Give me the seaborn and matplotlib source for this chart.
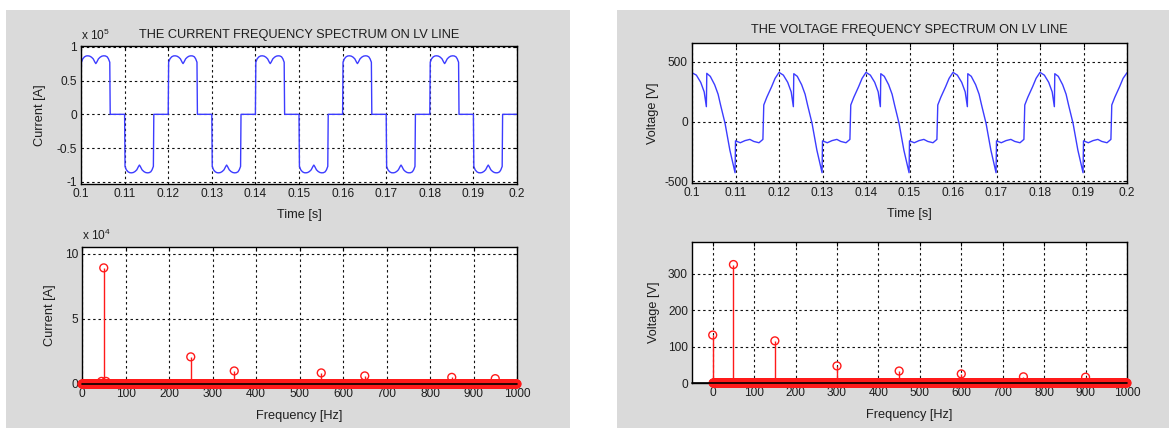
import numpy as np
import pandas as pd
import matplotlib
matplotlib.use("Agg")
import matplotlib.pyplot as plt
import seaborn as sns
from matplotlib.patches import Rectangle

# ---------------- data ----------------
# current waveform, time [s] and current [x1e5 A]
cur_t = [
    0.1000, 0.1001, 0.1004, 0.1008, 0.1012, 0.1016, 0.1020, 0.1024, 0.1028, 0.1032, 0.1034,
    0.1036, 0.1040, 0.1044, 0.1048, 0.1052, 0.1056, 0.1060, 0.1063, 0.1066, 0.1067,
    0.1100, 0.1101, 0.1104, 0.1108, 0.1112, 0.1116, 0.1120, 0.1124, 0.1128, 0.1132, 0.1134,
    0.1136, 0.1140, 0.1144, 0.1148, 0.1152, 0.1156, 0.1160, 0.1163, 0.1166, 0.1167,
    0.1200, 0.1201, 0.1204, 0.1208, 0.1212, 0.1216, 0.1220, 0.1224, 0.1228, 0.1232, 0.1234,
    0.1236, 0.1240, 0.1244, 0.1248, 0.1252, 0.1256, 0.1260, 0.1263, 0.1266, 0.1267,
    0.1300, 0.1301, 0.1304, 0.1308, 0.1312, 0.1316, 0.1320, 0.1324, 0.1328, 0.1332, 0.1334,
    0.1336, 0.1340, 0.1344, 0.1348, 0.1352, 0.1356, 0.1360, 0.1363, 0.1366, 0.1367,
    0.1400, 0.1401, 0.1404, 0.1408, 0.1412, 0.1416, 0.1420, 0.1424, 0.1428, 0.1432, 0.1434,
    0.1436, 0.1440, 0.1444, 0.1448, 0.1452, 0.1456, 0.1460, 0.1463, 0.1466, 0.1467,
    0.1500, 0.1501, 0.1504, 0.1508, 0.1512, 0.1516, 0.1520, 0.1524, 0.1528, 0.1532, 0.1534,
    0.1536, 0.1540, 0.1544, 0.1548, 0.1552, 0.1556, 0.1560, 0.1563, 0.1566, 0.1567,
    0.1600, 0.1601, 0.1604, 0.1608, 0.1612, 0.1616, 0.1620, 0.1624, 0.1628, 0.1632, 0.1634,
    0.1636, 0.1640, 0.1644, 0.1648, 0.1652, 0.1656, 0.1660, 0.1663, 0.1666, 0.1667,
    0.1700, 0.1701, 0.1704, 0.1708, 0.1712, 0.1716, 0.1720, 0.1724, 0.1728, 0.1732, 0.1734,
    0.1736, 0.1740, 0.1744, 0.1748, 0.1752, 0.1756, 0.1760, 0.1763, 0.1766, 0.1767,
    0.1800, 0.1801, 0.1804, 0.1808, 0.1812, 0.1816, 0.1820, 0.1824, 0.1828, 0.1832, 0.1834,
    0.1836, 0.1840, 0.1844, 0.1848, 0.1852, 0.1856, 0.1860, 0.1863, 0.1866, 0.1867,
    0.1900, 0.1901, 0.1904, 0.1908, 0.1912, 0.1916, 0.1920, 0.1924, 0.1928, 0.1932, 0.1934,
    0.1936, 0.1940, 0.1944, 0.1948, 0.1952, 0.1956, 0.1960, 0.1963, 0.1966, 0.1967,
    0.2000,
]
cur_val = [
    0.37, 0.77, 0.82, 0.85, 0.863, 0.865, 0.86, 0.845, 0.82, 0.77, 0.75,
    0.77, 0.82, 0.845, 0.86, 0.865, 0.863, 0.85, 0.82, 0.77, 0.0,
    0.0, -0.77, -0.82, -0.85, -0.863, -0.865, -0.86, -0.845, -0.82, -0.77, -0.75,
    -0.77, -0.82, -0.845, -0.86, -0.865, -0.863, -0.85, -0.82, -0.77, 0.0,
    0.0, 0.77, 0.82, 0.85, 0.863, 0.865, 0.86, 0.845, 0.82, 0.77, 0.75,
    0.77, 0.82, 0.845, 0.86, 0.865, 0.863, 0.85, 0.82, 0.77, 0.0,
    0.0, -0.77, -0.82, -0.85, -0.863, -0.865, -0.86, -0.845, -0.82, -0.77, -0.75,
    -0.77, -0.82, -0.845, -0.86, -0.865, -0.863, -0.85, -0.82, -0.77, 0.0,
    0.0, 0.77, 0.82, 0.85, 0.863, 0.865, 0.86, 0.845, 0.82, 0.77, 0.75,
    0.77, 0.82, 0.845, 0.86, 0.865, 0.863, 0.85, 0.82, 0.77, 0.0,
    0.0, -0.77, -0.82, -0.85, -0.863, -0.865, -0.86, -0.845, -0.82, -0.77, -0.75,
    -0.77, -0.82, -0.845, -0.86, -0.865, -0.863, -0.85, -0.82, -0.77, 0.0,
    0.0, 0.77, 0.82, 0.85, 0.863, 0.865, 0.86, 0.845, 0.82, 0.77, 0.75,
    0.77, 0.82, 0.845, 0.86, 0.865, 0.863, 0.85, 0.82, 0.77, 0.0,
    0.0, -0.77, -0.82, -0.85, -0.863, -0.865, -0.86, -0.845, -0.82, -0.77, -0.75,
    -0.77, -0.82, -0.845, -0.86, -0.865, -0.863, -0.85, -0.82, -0.77, 0.0,
    0.0, 0.77, 0.82, 0.85, 0.863, 0.865, 0.86, 0.845, 0.82, 0.77, 0.75,
    0.77, 0.82, 0.845, 0.86, 0.865, 0.863, 0.85, 0.82, 0.77, 0.0,
    0.0, -0.77, -0.82, -0.85, -0.863, -0.865, -0.86, -0.845, -0.82, -0.77, -0.75,
    -0.77, -0.82, -0.845, -0.86, -0.865, -0.863, -0.85, -0.82, -0.77, 0.0,
    0.0,
]

# voltage waveform, time [s] and voltage [V]
volt_t = [
    0.1000, 0.1010, 0.1020, 0.1028, 0.1033, 0.1034, 0.1042, 0.1052, 0.1060, 0.1066, 0.1076, 0.1087,
    0.1099, 0.1100, 0.1111, 0.1122, 0.1133, 0.1142, 0.1154, 0.1163, 0.1165, 0.1172, 0.1183, 0.1191,
    0.1200, 0.1210, 0.1220, 0.1228, 0.1233, 0.1234, 0.1242, 0.1252, 0.1260, 0.1266, 0.1276, 0.1287,
    0.1299, 0.1300, 0.1311, 0.1322, 0.1333, 0.1342, 0.1354, 0.1363, 0.1365, 0.1372, 0.1383, 0.1391,
    0.1400, 0.1410, 0.1420, 0.1428, 0.1433, 0.1434, 0.1442, 0.1452, 0.1460, 0.1466, 0.1476, 0.1487,
    0.1499, 0.1500, 0.1511, 0.1522, 0.1533, 0.1542, 0.1554, 0.1563, 0.1565, 0.1572, 0.1583, 0.1591,
    0.1600, 0.1610, 0.1620, 0.1628, 0.1633, 0.1634, 0.1642, 0.1652, 0.1660, 0.1666, 0.1676, 0.1687,
    0.1699, 0.1700, 0.1711, 0.1722, 0.1733, 0.1742, 0.1754, 0.1763, 0.1765, 0.1772, 0.1783, 0.1791,
    0.1800, 0.1810, 0.1820, 0.1828, 0.1833, 0.1834, 0.1842, 0.1852, 0.1860, 0.1866, 0.1876, 0.1887,
    0.1899, 0.1900, 0.1911, 0.1922, 0.1933, 0.1942, 0.1954, 0.1963, 0.1965, 0.1972, 0.1983, 0.1991,
    0.2000,
]
volt_val = [
    410, 390, 330, 250, 126, 405, 380, 310, 230, 135, -14, -237,
    -427, -160, -176, -158, -148, -165, -176, -148, 140, 205, 293, 363,
    413, 390, 330, 250, 126, 402, 380, 310, 230, 135, -14, -237,
    -427, -160, -176, -158, -148, -165, -176, -148, 140, 205, 293, 363,
    413, 390, 330, 250, 126, 402, 380, 310, 230, 135, -14, -237,
    -427, -160, -176, -158, -148, -165, -176, -148, 140, 205, 293, 363,
    413, 390, 330, 250, 126, 402, 380, 310, 230, 135, -14, -237,
    -427, -160, -176, -158, -148, -165, -176, -148, 140, 205, 293, 363,
    413, 390, 330, 250, 126, 402, 380, 310, 230, 135, -14, -237,
    -427, -160, -176, -158, -148, -165, -176, -148, 140, 205, 293, 363,
    410,
]

# spectra: every 1 Hz bin is zero except the harmonics listed here
spec_freq = list(range(0, 1001, 1))
cur_harm_freq = [45, 50, 55, 250, 350, 550, 650, 850, 950]
cur_harm_amp = [0.2, 8.9, 0.2, 2.08, 1.0, 0.85, 0.62, 0.51, 0.41]       # x1e4 A
volt_harm_freq = [0, 50, 150, 300, 450, 600, 750, 900]
volt_harm_amp = [132, 326, 116, 47, 33, 25, 17, 16]                     # V

time_ticks = [0.1, 0.11, 0.12, 0.13, 0.14, 0.15, 0.16, 0.17, 0.18, 0.19, 0.2]
time_labels = ["0.1", "0.11", "0.12", "0.13", "0.14", "0.15", "0.16", "0.17", "0.18", "0.19", "0.2"]
freq_ticks = [0, 100, 200, 300, 400, 500, 600, 700, 800, 900, 1000]

# ---------------- styling ----------------
sns.set_theme(style="white")
plt.rcParams["font.family"] = ["Liberation Sans", "DejaVu Sans"]
plt.rcParams["mathtext.default"] = "regular"
plt.rcParams["axes.unicode_minus"] = False

W, H = 1169, 428
GREY = "#dadada"
BLUE = "#3c3cff"
RED = "#ff1a1a"
TXT = "#1e1e1e"
TICK_FS = 8.6
LAB_FS = 9.2

fig = plt.figure(figsize=(W / 100, H / 100), dpi=100, facecolor="white")


def px_box(x0, x1, y0, y1):
    return [x0 / W, 1 - y1 / H, (x1 - x0) / W, (y1 - y0) / H]


fig.add_artist(Rectangle((6 / W, 0), (570 - 6) / W, 1 - 10 / H, transform=fig.transFigure,
                         facecolor=GREY, edgecolor="none", zorder=-10))
fig.add_artist(Rectangle((617 / W, 0), (W - 617) / W, 1 - 10 / H, transform=fig.transFigure,
                         facecolor=GREY, edgecolor="none", zorder=-10))


def style(ax):
    ax.set_facecolor("white")
    ax.grid(True, color="#111111", linestyle=(0, (2.2, 2.6)), linewidth=0.8)
    ax.tick_params(direction="in", length=3, width=0.8, colors="black", labelcolor=TXT,
                   labelsize=TICK_FS, top=True, right=True, pad=3)
    for s in ax.spines.values():
        s.set_color("black")
        s.set_linewidth(1.0)


def stem(ax, freqs, hf, ha):
    df = pd.DataFrame({"f": freqs, "a": [0.0] * len(freqs)})
    for f, a in zip(hf, ha):
        df.loc[df["f"] == f, "a"] = a
    nz = df[df["a"] != 0]
    ax.vlines(nz["f"], 0, nz["a"], color=RED, linewidth=1.0, zorder=3)
    sns.scatterplot(data=df, x="f", y="a", ax=ax, marker="o", s=32, facecolors="none",
                    edgecolor=RED, linewidth=1.0, zorder=4, clip_on=False, legend=False)
    ax.axhline(0, color="black", linewidth=1.2, zorder=5, clip_on=False)


# ---- top-left: current waveform
ax1 = fig.add_axes(px_box(81, 517, 46, 184))
sns.lineplot(x=cur_t, y=cur_val, ax=ax1, estimator=None, sort=False, color=BLUE, linewidth=1.0)
ax1.set_xlim(0.1, 0.2)
ax1.set_ylim(-1.03, 1.01)
ax1.set_xticks(time_ticks)
ax1.set_xticklabels(time_labels)
ax1.set_yticks([-1, -0.5, 0, 0.5, 1])
ax1.set_yticklabels(["-1", "-0.5", "0", "0.5", "1"])
style(ax1)
ax1.set_xlabel("Time [s]", fontsize=LAB_FS, color=TXT, labelpad=6)
ax1.set_ylabel("Current [A]", fontsize=LAB_FS, color=TXT, labelpad=7.5)
ax1.set_title("THE CURRENT FREQUENCY SPECTRUM ON LV LINE", fontsize=LAB_FS, color=TXT, pad=6)
ax1.text(0.0, 1.025, r"x 10$^{5}$", transform=ax1.transAxes, fontsize=TICK_FS, color=TXT,
         ha="left", va="bottom")

# ---- bottom-left: current spectrum
ax2 = fig.add_axes(px_box(82, 517, 247, 384))
stem(ax2, spec_freq, cur_harm_freq, cur_harm_amp)
ax2.set_xlim(0, 1000)
ax2.set_ylim(0, 10.5)
ax2.set_xticks(freq_ticks)
ax2.set_yticks([0, 5, 10])
ax2.set_yticklabels(["0", "5", "10"])
style(ax2)
ax2.set_xlabel("Frequency [Hz]", fontsize=LAB_FS, color=TXT, labelpad=7)
ax2.set_ylabel("Current [A]", fontsize=LAB_FS, color=TXT, labelpad=6)
ax2.text(0.0, 1.03, r"x 10$^{4}$", transform=ax2.transAxes, fontsize=TICK_FS, color=TXT,
         ha="left", va="bottom")

# ---- top-right: voltage waveform
ax3 = fig.add_axes(px_box(692, 1127, 43, 183))
sns.lineplot(x=volt_t, y=volt_val, ax=ax3, estimator=None, sort=False, color=BLUE, linewidth=1.0)
ax3.set_xlim(0.1, 0.2)
ax3.set_ylim(-513, 659)
ax3.set_xticks(time_ticks)
ax3.set_xticklabels(time_labels)
ax3.set_yticks([-500, 0, 500])
ax3.set_yticklabels(["-500", "0", "500"])
style(ax3)
ax3.set_xlabel("Time [s]", fontsize=LAB_FS, color=TXT, labelpad=6)
ax3.set_ylabel("Voltage [V]", fontsize=LAB_FS, color=TXT, labelpad=4)
ax3.set_title("THE VOLTAGE FREQUENCY SPECTRUM ON LV LINE", fontsize=LAB_FS, color=TXT, pad=7)

# ---- bottom-right: voltage spectrum
ax4 = fig.add_axes(px_box(692, 1127, 242, 383))
stem(ax4, spec_freq, volt_harm_freq, volt_harm_amp)
ax4.set_xlim(-50, 1000)
ax4.set_ylim(0, 388)
ax4.set_xticks(freq_ticks)
ax4.set_yticks([0, 100, 200, 300])
style(ax4)
ax4.set_xlabel("Frequency [Hz]", fontsize=LAB_FS, color=TXT, labelpad=7)
ax4.set_ylabel("Voltage [V]", fontsize=LAB_FS, color=TXT, labelpad=6)

fig.savefig("out.png", dpi=100, facecolor="white")
